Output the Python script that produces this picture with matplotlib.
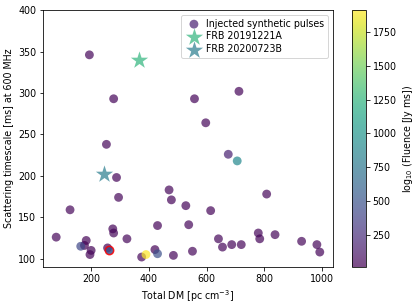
import matplotlib
matplotlib.use("Agg")
import matplotlib.pyplot as plt
import numpy as np

plt.rcParams['font.size'] = 9.5

# Injected synthetic pulses
dm = [675, 706, 288, 470, 478, 295, 528, 127, 614, 808, 275, 278, 430, 538,
      79, 183, 324, 177, 164, 200, 196, 257, 375, 390, 421, 430, 485, 551,
      641, 655, 687, 720, 779, 784, 837, 929, 982, 992, 194, 278, 558, 712,
      597, 253]
scat = [226, 218, 198, 183, 171, 174, 164, 159, 158, 178, 136, 131, 140, 141,
        126, 122, 124, 116, 115, 110, 105, 113, 102, 105, 111, 106, 104, 109,
        124, 114, 117, 117, 131, 124, 129, 121, 117, 108, 346, 293, 293, 302,
        264, 238]
fluence = [180, 900, 40, 50, 40, 50, 40, 50, 40, 50, 40, 50, 40, 50,
           50, 30, 50, 20, 420, 30, 40, 14, 50, 1910, 30, 480, 50, 50,
           50, 50, 50, 50, 50, 40, 50, 50, 50, 40, 50, 40, 40, 40,
           50, 50]

# Highlighted pulse (red edge)
hl_dm = [262]
hl_scat = [111]
hl_fluence = [450]

# FRBs
frb_names = ["FRB 20191221A", "FRB 20200723B"]
frb_dm = [367, 244]
frb_scat = [340, 202]
frb_fluence = [1250, 800]

vmin, vmax = 14, 1910

fig = plt.figure(figsize=(416/72, 306/72), dpi=72)
ax = fig.add_axes([0.1034, 0.1275, 0.697, 0.8395])
cax = fig.add_axes([0.846, 0.1275, 0.033, 0.8395])

sc = ax.scatter(dm, scat, c=fluence, cmap='viridis', vmin=vmin, vmax=vmax,
                s=78, alpha=0.7, label='Injected synthetic pulses', linewidths=0)
ax.scatter(hl_dm, hl_scat, c=hl_fluence, cmap='viridis', vmin=vmin, vmax=vmax,
           s=70, alpha=0.85, edgecolors='red', linewidths=1.5)
for name, x, y, f in zip(frb_names, frb_dm, frb_scat, frb_fluence):
    ax.scatter([x], [y], c=[f], cmap='viridis', vmin=vmin, vmax=vmax,
               marker='*', s=330, alpha=0.7, linewidths=0, label=name)

ax.set_ylim(90, 400)
ax.set_xlabel('Total DM [pc cm$^{-3}$]')
ax.set_ylabel('Scattering timescale [ms] at 600 MHz')
ax.legend(loc='upper right', fontsize=9.5, handletextpad=0.3, borderpad=0.4,
          labelspacing=0.3)

cb = fig.colorbar(sc, cax=cax)
cb.set_label('log$_{10}$ (Fluence [Jy ms])')
cb.set_ticks([250, 500, 750, 1000, 1250, 1500, 1750])

fig.savefig('out.png', dpi=72)
